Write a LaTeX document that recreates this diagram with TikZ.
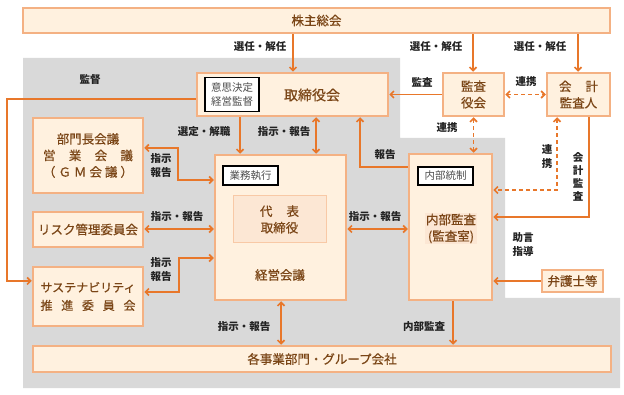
\documentclass[tikz,border=0pt]{standalone}
\usepackage{fontspec}
\setmainfont{Noto Sans CJK JP}
\newfontfamily\bxfont{Noto Sans CJK JP}[FakeBold=0.5]
\usetikzlibrary{arrows.meta}
\definecolor{og}{HTML}{E8772A}
\definecolor{bx}{HTML}{F4B183}
\definecolor{bf}{HTML}{FFF1DF}
\definecolor{bt}{HTML}{7A4516}
\definecolor{gr}{HTML}{D9D9D9}
\definecolor{lt}{HTML}{222222}
\definecolor{inf}{HTML}{FCE7D4}
\definecolor{inb}{HTML}{F8C9A6}
\begin{document}
\begin{tikzpicture}[x=1pt,y=-1pt,
 box/.style={draw=bx,fill=bf,line width=2.5pt,text=bt,font=\bxfont\fontsize{12.5}{16.5}\selectfont,align=center,inner sep=0pt},
 btxt/.style={text=bt,font=\bxfont\fontsize{12.5}{16.5}\selectfont,align=center,inner sep=0pt},
 tag/.style={draw=black,fill=white,line width=1.2pt,text=black!70,font=\fontsize{10.5}{13.5}\selectfont,align=center,inner sep=0pt},
 lbl/.style={text=lt,font=\fontsize{10.5}{14}\selectfont\bfseries,align=center,inner sep=0pt},
 tip/.tip={Straight Barb[length=3.5pt,width=7pt]},
 arr/.style={draw=og,line width=1.6pt,-tip},
 darr/.style={draw=og,line width=1.6pt,tip-tip},
 dsh/.style={dash pattern=on 4pt off 3pt}
]
\useasboundingbox (0,0) rectangle (624,395);
\fill[white] (0,0) rectangle (624,395);
\fill[gr] (23,58) -- (400,58) -- (400,138) -- (505,138) -- (505,298) -- (620,298) -- (620,388) -- (23,388) -- cycle;

% boxes
\node[box,minimum width=587,minimum height=25] (kabu) at (316.5,20.5) {株主総会};
\node[box,minimum width=191,minimum height=43] (tori) at (292.5,94.5) {};
\node[tag,minimum width=54,minimum height=34] (ishi) at (232,94.5) {意思決定\\経営監督};
\node[btxt,font=\bxfont\fontsize{14}{16}\selectfont] (toritxt) at (312,95) {取締役会};
\node[box,minimum width=61,minimum height=43] (kansa) at (473.5,94.5) {監査\\役会};
\node[box,minimum width=63,minimum height=43] (kaikei) at (578.5,94.5) {\makebox[39pt]{会\hfill 計}\\監査人};
\node[box,minimum width=110,minimum height=75] (bumon) at (88,155.5) {部門長会議\\\makebox[90pt]{営\hfill 業\hfill 会\hfill 議}\\\makebox[90pt]{（\hfill Ｇ\hfill Ｍ\hfill 会\hfill 議\hfill ）}};
\node[box,minimum width=110,minimum height=35] (risk) at (88,229.5) {リスク管理委員会};
\node[box,minimum width=110,minimum height=59,font=\bxfont\fontsize{12}{18}\selectfont] (sus) at (88,296.5) {サステナビリティ\\\makebox[95pt]{推\hfill 進\hfill 委\hfill 員\hfill 会}};
\node[box,minimum width=131,minimum height=145] (keiei) at (280.5,227.5) {};
\node[tag,minimum width=55,minimum height=19] (gyomu) at (250.5,175.5) {業務執行};
\node[draw=inb,fill=inf,line width=1pt,minimum width=93,minimum height=47,text=bt,font=\bxfont\fontsize{12.5}{16.5}\selectfont,align=center,inner sep=0pt] (daihyo) at (279.5,219.5) {\makebox[39pt]{代\hfill 表}\\取締役};
\node[btxt] (keieitxt) at (280,275) {経営会議};
\node[box,minimum width=83,minimum height=146] (naibu) at (450.5,227) {};
\node[tag,minimum width=55,minimum height=18] (naitou) at (445.5,176) {内部統制};
\node[btxt,fill=inf,inner sep=1pt] (naibutxt) at (451,228.5) {内部監査\\(監査室)};
\node[box,minimum width=61,minimum height=22] (bengo) at (572.5,281) {弁護士等};
\node[box,minimum width=578,minimum height=26] (kaku) at (322,359) {各事業部門・グループ会社};

% connectors
\draw[arr] (kabu.south -| 293,0) -- (tori.north -| 293,0);
\draw[arr] (kabu.south -| 473,0) -- (kansa.north -| 473,0);
\draw[arr] (kabu.south -| 578,0) -- (kaikei.north -| 578,0);
\draw[arr] (kansa.west) -- (tori.east |- kansa.west);
\draw[darr,dsh] (kansa.east) -- (kaikei.west);
\draw[darr,dsh] (kansa.south) -- (naibu.north -| kansa.south);
\draw[darr,dsh] (kaikei.south -| 557,0) -- (557,190) -- (naibu.east |- 0,190);
\draw[arr] (kaikei.south -| 589,0) -- (589,217) -- (naibu.east |- 0,217);
\draw[arr] (bengo.west) -- (naibu.east |- bengo.west);
\draw[arr] (tori.south -| 240,0) -- (keiei.north -| 240,0);
\draw[darr] (tori.south -| 316,0) -- (keiei.north -| 316,0);
\draw[arr] (naibu.west |- 0,167) -- (360,167) -- (tori.south -| 360,0);
\draw[arr] (tori.west |- 0,99) -- (7,99) -- (7,281) -- (sus.west |- 0,281);
\draw[darr] (bumon.east |- 0,148) -- (178,148) -- (178,180) -- (keiei.west |- 0,180);
\draw[darr] (risk.east |- 0,229) -- (keiei.west |- 0,229);
\draw[darr] (sus.east |- 0,292) -- (179,292) -- (179,258) -- (keiei.west |- 0,258);
\draw[darr] (keiei.east |- 0,229) -- (naibu.west |- 0,229);
\draw[darr] (keiei.south -| 281,0) -- (kaku.north -| 281,0);
\draw[arr] (naibu.south -| 453,0) -- (kaku.north -| 453,0);

% labels
\node[lbl] (l1) at (260,47) {選任・解任};
\node[lbl] (l2) at (436,47) {選任・解任};
\node[lbl] (l3) at (540,47) {選任・解任};
\node[lbl] (l4) at (422,82) {監査};
\node[lbl] (l5) at (526,82) {連携};
\node[lbl] (l6) at (447,128) {連携};
\node[lbl] (l7) at (547,157) {連\\携};
\node[lbl,font=\fontsize{10.5}{13}\selectfont\bfseries] (l8) at (578,177) {会\\計\\監\\査};
\node[lbl] (l9) at (523,245) {助言\\指導};
\node[lbl] (l10) at (204,132) {選定・解職};
\node[lbl] (l11) at (284,132) {指示・報告};
\node[lbl] (l12) at (385,155) {報告};
\node[lbl] (l13) at (90,80) {監督};
\node[lbl] (l14) at (161,166) {指示\\報告};
\node[lbl] (l15) at (177,217) {指示・報告};
\node[lbl] (l16) at (161,270) {指示\\報告};
\node[lbl] (l17) at (375,217) {指示・報告};
\node[lbl] (l18) at (244,327) {指示・報告};
\node[lbl] (l19) at (424,327) {内部監査};
\end{tikzpicture}
\end{document}
